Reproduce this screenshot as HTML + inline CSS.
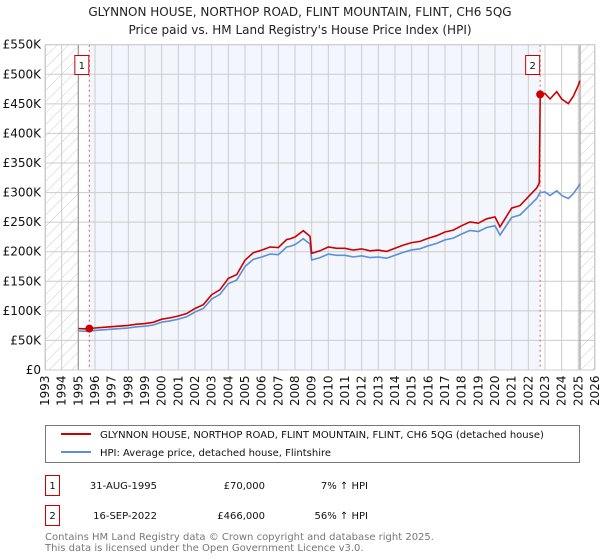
<!DOCTYPE html>
<html><head><meta charset="utf-8">
<style>
body{margin:0;background:#fff;font-family:"DejaVu Sans","Liberation Sans",sans-serif;}
#wrap{position:relative;width:600px;height:560px;overflow:hidden}
svg text{font-family:"DejaVu Sans","Liberation Sans",sans-serif}
</style></head>
<body><div id="wrap">
<svg id="chart" width="600" height="560" xmlns="http://www.w3.org/2000/svg">
<defs>
<pattern id="hatch" width="8" height="8" patternUnits="userSpaceOnUse" patternTransform="rotate(45)">
<rect width="8" height="8" fill="#fff"/><line x1="0" y1="0" x2="0" y2="8" stroke="#ccc" stroke-width="1"/>
</pattern>
</defs>
<text x="300" y="16" text-anchor="middle" font-size="12" fill="#222">GLYNNON HOUSE, NORTHOP ROAD, FLINT MOUNTAIN, FLINT, CH6 5QG</text>
<text x="300" y="34" text-anchor="middle" font-size="12" fill="#222">Price paid vs. HM Land Registry's House Price Index (HPI)</text>
<g id="plot"></g>
<g id="legend">
<rect x="45.5" y="425.5" width="534" height="37" fill="#fff" stroke="#777"/>
<line x1="61" y1="434" x2="91" y2="434" stroke="#cc0000" stroke-width="2"/>
<text x="100" y="438" font-size="10" fill="#111">GLYNNON HOUSE, NORTHOP ROAD, FLINT MOUNTAIN, FLINT, CH6 5QG (detached house)</text>
<line x1="61" y1="452" x2="91" y2="452" stroke="#5b8fd6" stroke-width="2"/>
<text x="100" y="456" font-size="10" fill="#111">HPI: Average price, detached house, Flintshire</text>
</g>
<g>
<rect x="45.5" y="475.5" width="14" height="20" fill="#fff" stroke="#cc0000"/>
<text x="52.5" y="489" text-anchor="middle" font-size="10" fill="#111">1</text>
<text x="157" y="489" text-anchor="end" font-size="10" fill="#111">31-AUG-1995</text>
<text x="265" y="489" text-anchor="end" font-size="10" fill="#111">£70,000</text>
<text x="368" y="489" text-anchor="end" font-size="10" fill="#111">7% ↑ HPI</text>
</g>
<g>
<rect x="45.5" y="505.5" width="14" height="20" fill="#fff" stroke="#cc0000"/>
<text x="52.5" y="519" text-anchor="middle" font-size="10" fill="#111">2</text>
<text x="157" y="519" text-anchor="end" font-size="10" fill="#111">16-SEP-2022</text>
<text x="265" y="519" text-anchor="end" font-size="10" fill="#111">£466,000</text>
<text x="368" y="519" text-anchor="end" font-size="10" fill="#111">56% ↑ HPI</text>
</g>
<text x="45" y="540" font-size="10" fill="#777">Contains HM Land Registry data © Crown copyright and database right 2025.</text>
<text x="45" y="551" font-size="10" fill="#777">This data is licensed under the Open Government Licence v3.0.</text>
</svg>
</div>
<script>
const hpiYears=[1995,1995.5,1996,1996.5,1997,1997.5,1998,1998.5,1999,1999.5,2000,2000.5,2001,2001.5,2002,2002.5,2003,2003.5,2004,2004.5,2005,2005.5,2006,2006.5,2007,2007.5,2007.7,2008,2008.5,2008.9,2009.0,2009.5,2010,2010.5,2011,2011.5,2012,2012.5,2013,2013.5,2014,2014.5,2015,2015.5,2016,2016.5,2017,2017.5,2018,2018.5,2019,2019.5,2020,2020.3,2020.6,2021,2021.5,2022,2022.5,2022.7,2023,2023.3,2023.7,2024,2024.4,2024.7,2025,2025.1];
const hpiValues=[66,65.5,67,68,69,70,71,73,74,76,81,83,86,90,98,104,120,128,146,152,175,187,191,196,195,208,209,212,222,213,186,190,196,194,194,191,193,190,191,189,194,199,203,205,210,214,220,223,230,236,234,241,244,228,241,258,262,276,290,300,301,295,303,295,290,298,310,315];
const yTicks=[0,50,100,150,200,250,300,350,400,450,500,550];
const yTickLabels=["£0","£50K","£100K","£150K","£200K","£250K","£300K","£350K","£400K","£450K","£500K","£550K"];
const xYears=[1993,1994,1995,1996,1997,1998,1999,2000,2001,2002,2003,2004,2005,2006,2007,2008,2009,2010,2011,2012,2013,2014,2015,2016,2017,2018,2019,2020,2021,2022,2023,2024,2025,2026];
const saleYears=[1995.66,2022.71];
const salePrices=[70,466];
const saleLabels=["1","2"];

const X0=45,X1=595,Y0=370,Y1=44.7;
const xs=y=>X0+(y-1993)/(2026-1993)*(X1-X0);
const ys=v=>Y0-(v/550)*(Y0-Y1);
const NS="http://www.w3.org/2000/svg";
const plot=document.getElementById('plot');
function mk(t,a,p){const e=document.createElementNS(NS,t);for(const k in a)e.setAttribute(k,a[k]);(p||plot).appendChild(e);return e;}
function hpiAt(y){for(let i=1;i<hpiYears.length;i++){if(y<=hpiYears[i]){const t=(y-hpiYears[i-1])/(hpiYears[i]-hpiYears[i-1]);return hpiValues[i-1]+t*(hpiValues[i]-hpiValues[i-1]);}}return hpiValues[hpiValues.length-1];}

let bg=mk('rect',{x:X0,y:Y1,width:X1-X0,height:Y0-Y1,fill:'#fff'});


let sh=mk('rect',{x:xs(saleYears[0]),y:Y1,width:xs(saleYears[1])-xs(saleYears[0]),height:Y0-Y1,fill:'#f3f6fd'});


let h1=mk('rect',{x:X0,y:Y1,width:xs(1995)-X0,height:Y0-Y1,fill:'url(#hatch)'});


let h2=mk('rect',{x:xs(2025.1),y:Y1,width:X1-xs(2025.1),height:Y0-Y1,fill:'url(#hatch)'});



yTicks.forEach((v,i)=>{
 const g=mk('line',{x1:X0,x2:X1,y1:ys(v),y2:ys(v),stroke:'#ccc','stroke-width':1});
 
 
 const t=mk('text',{x:X0-4,y:ys(v)+4,'text-anchor':'end','font-size':'12',fill:'#111'});
 
 
 t.textContent=yTickLabels[i];
});
xYears.forEach(yr=>{
 const g=mk('line',{x1:xs(yr),x2:xs(yr),y1:Y1,y2:Y0,stroke:'#ccc','stroke-width':1});
 
 
 const t=mk('text',{transform:`translate(${xs(yr)+4},406) rotate(-90)`,'font-size':'12',fill:'#111'});
 
 
 t.textContent=yr;
});
[1995,2025.1].forEach(yr=>{
 const l=mk('line',{x1:xs(yr),x2:xs(yr),y1:Y1,y2:Y0,stroke:'#999','stroke-width':1.2});
 
 
});
saleYears.forEach(yr=>{
 const l=mk('line',{x1:xs(yr),x2:xs(yr),y1:Y1,y2:Y0,stroke:'#ee5555','stroke-width':1,'stroke-dasharray':'2,3'});
 
 
});

let hp=hpiYears.map((y,i)=>`${xs(y).toFixed(1)},${ys(hpiValues[i]).toFixed(1)}`).join(' ');
const hl=mk('polyline',{points:hp,fill:'none',stroke:'#5b8fd6','stroke-width':1.6});



const r1=salePrices[0]/hpiAt(saleYears[0]), r2=salePrices[1]/hpiAt(saleYears[1]);
let pts=[];
hpiYears.forEach((y,i)=>{
 if(y<saleYears[1]) pts.push([y,hpiValues[i]*r1]);
});
pts.push([saleYears[1]-0.05,hpiAt(saleYears[1]-0.05)*r1]);
pts.push([saleYears[1],salePrices[1]]);
hpiYears.forEach((y,i)=>{ if(y>saleYears[1]) pts.push([y,hpiValues[i]*r2]); });
const pl=mk('polyline',{points:pts.map(p=>`${xs(p[0]).toFixed(1)},${ys(p[1]).toFixed(1)}`).join(' '),fill:'none',stroke:'#cc0000','stroke-width':1.6});



saleYears.forEach((yr,i)=>{
 const c=mk('circle',{cx:xs(yr),cy:ys(salePrices[i]),r:4,fill:'#cc0000'});
 
 
 const b=mk('rect',{x:xs(yr)-14.5,y:55.5,width:14,height:19,fill:'#fff',stroke:'#cc0000'});
 
 
 const t=mk('text',{x:xs(yr)-7.5,y:69,'text-anchor':'middle','font-size':'10',fill:'#111'});
 
 
 t.textContent=saleLabels[i];
});
const fr=mk('rect',{x:X0+0.5,y:Y1,width:X1-X0-1,height:Y0-Y1,fill:'none',stroke:'#ccc'});


</script>
</body></html>
